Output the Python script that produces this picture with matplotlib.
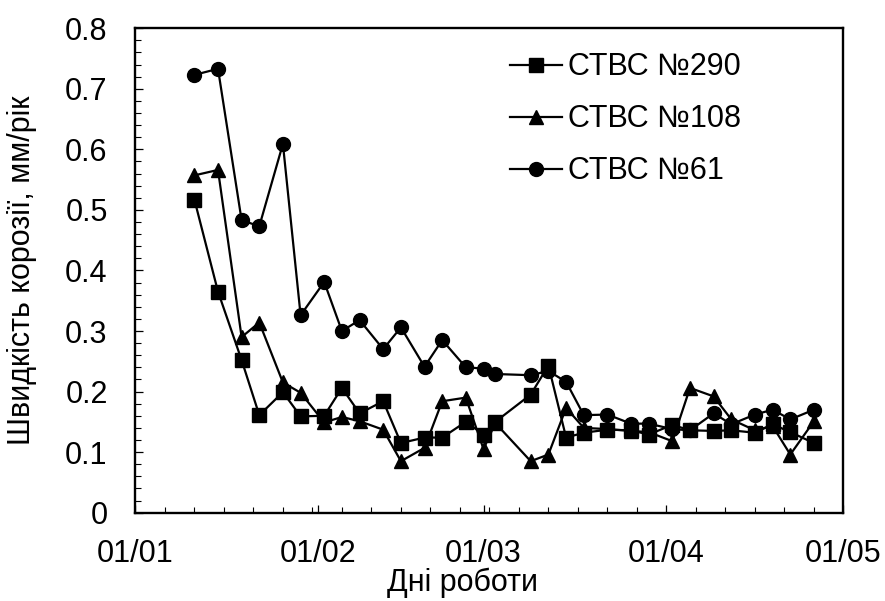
import matplotlib
matplotlib.use("Agg")
import matplotlib.pyplot as plt
import matplotlib.dates as mdates
import pandas as pd

plt.rcParams['font.family'] = ['Liberation Sans', 'DejaVu Sans']

dates = ["2021-01-11", "2021-01-15", "2021-01-19", "2021-01-22", "2021-01-26",
         "2021-01-29", "2021-02-02", "2021-02-05", "2021-02-08", "2021-02-12",
         "2021-02-15", "2021-02-19", "2021-02-22", "2021-02-26", "2021-03-01",
         "2021-03-03", "2021-03-09", "2021-03-12", "2021-03-15", "2021-03-18",
         "2021-03-22", "2021-03-26", "2021-03-29", "2021-04-02", "2021-04-05",
         "2021-04-09", "2021-04-12", "2021-04-16", "2021-04-19", "2021-04-22",
         "2021-04-26"]

stvs_290 = [0.517, 0.365, 0.252, 0.161, 0.199, 0.159, 0.160, 0.206, 0.164, 0.184,
            0.115, 0.124, 0.124, 0.150, 0.129, 0.150, 0.195, 0.243, 0.124, 0.132,
            0.137, 0.136, 0.129, 0.145, 0.136, 0.135, 0.136, 0.132, 0.146, 0.133,
            0.115]

stvs_108 = [0.557, 0.566, 0.290, 0.314, 0.215, 0.198, 0.149, 0.158, 0.151, 0.137,
            0.085, 0.107, 0.184, 0.190, 0.105, 0.148, 0.085, 0.096, 0.173, 0.140,
            0.138, 0.135, 0.133, 0.118, 0.206, 0.192, 0.154, 0.136, 0.143, 0.096,
            0.151]

stvs_61 = [0.723, 0.733, 0.483, 0.473, 0.609, 0.326, 0.381, 0.300, 0.318, 0.270,
           0.306, 0.241, 0.285, 0.240, 0.238, 0.229, 0.227, 0.234, 0.216, 0.161,
           0.162, 0.147, 0.147, 0.138, 0.136, 0.164, 0.146, 0.162, 0.170, 0.154,
           0.170]

labels = ["СТВС №290", "СТВС №108", "СТВС №61"]
x_start, x_end = "2021-01-01", "2021-05-01"
y_ticks = [0, 0.1, 0.2, 0.3, 0.4, 0.5, 0.6, 0.7, 0.8]
y_ticklabels = ['0', '0.1', '0.2', '0.3', '0.4', '0.5', '0.6', '0.7', '0.8']

x = pd.to_datetime(dates)

fig = plt.figure(figsize=(8.85, 6.01), dpi=100)
ax = fig.add_axes([0.153, 0.147, 0.800, 0.806])

ms = 10
lw = 1.6
ax.plot(x, stvs_290, color='black', lw=lw, marker='s', ms=ms, label=labels[0])
ax.plot(x, stvs_108, color='black', lw=lw, marker='^', ms=ms, label=labels[1])
ax.plot(x, stvs_61, color='black', lw=lw, marker='o', ms=ms, label=labels[2])

ax.set_xlim(pd.Timestamp(x_start), pd.Timestamp(x_end))
ax.set_ylim(0, 0.8)

ax.xaxis.set_major_locator(mdates.MonthLocator())
ax.xaxis.set_major_formatter(mdates.DateFormatter('%d/%m'))
minor = pd.date_range(x_start, x_end, freq='5D')
ax.xaxis.set_minor_locator(matplotlib.ticker.FixedLocator(mdates.date2num(minor)))

ax.set_yticks(y_ticks)
ax.set_yticklabels(y_ticklabels)
ax.yaxis.set_minor_locator(matplotlib.ticker.MultipleLocator(0.02))

ax.tick_params(which='major', direction='in', length=6, width=0.9, labelsize=22)
ax.tick_params(axis='x', which='major', pad=19)
ax.tick_params(axis='y', which='major', pad=20)
ax.tick_params(which='minor', direction='in', length=4, width=0.8)
for s in ax.spines.values():
    s.set_linewidth(1.7)

ax.set_xlabel("Дні роботи", fontsize=22)
ax.xaxis.set_label_coords(0.4626, -0.113)
ax.set_ylabel("Швидкість корозії, мм/рік", fontsize=22)
ax.yaxis.set_label_coords(-0.139, 0.5)

leg = ax.legend(loc='upper left', bbox_to_anchor=(0.529, 0.950), frameon=False,
                fontsize=22, markerscale=1.0, handlelength=1.72, handletextpad=0.18,
                labelspacing=0.72, borderaxespad=0, borderpad=0)

fig.savefig("out.png", dpi=100)
